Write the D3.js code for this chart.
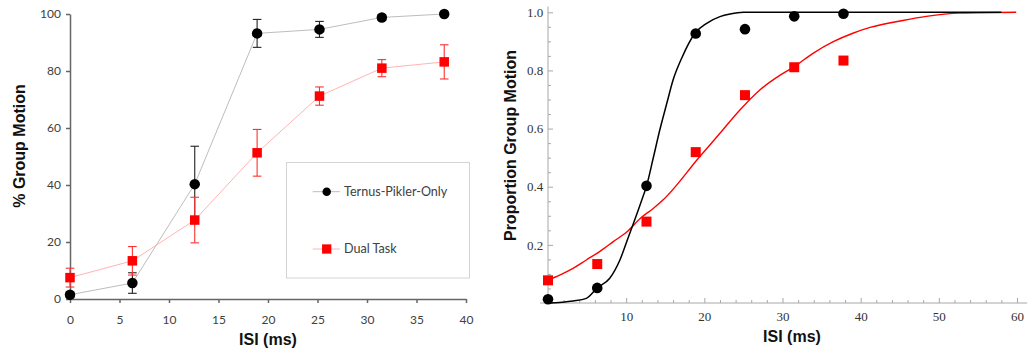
<!DOCTYPE html>
<html>
<head>
<meta charset="utf-8">
<script src="https://cdn.jsdelivr.net/npm/d3@7"></script>
<style>
  html, body { margin: 0; padding: 0; background: #fff; }
  svg { display: block; }
</style>
</head>
<body>
<svg id="chart" width="1028" height="356"></svg>
<script>
// ISI conditions (ms)
const isi = [0, 6.3, 12.6, 18.9, 25.2, 31.5, 37.8];

// Left panel: % group motion with error bars
const ternusPct = [1.5, 5.6, 40.3, 93.2, 94.6, 98.8, 100];
const ternusErr = [1.0, 3.6, 13.3, 4.9, 2.8, 1.0, 0.5];
const dualPct = [7.5, 13.4, 27.7, 51.3, 71.2, 81.0, 83.2];
const dualErr = [3.3, 5.0, 8.0, 8.2, 3.2, 3.0, 6.0];

const leftXTicks = [0, 5, 10, 15, 20, 25, 30, 35, 40];
const leftYTicks = [0, 20, 40, 60, 80, 100];
const legendLabels = ["Ternus-Pikler-Only", "Dual Task"];

// Right panel: proportions and fitted psychometric curves
const ternusProp = [0.013, 0.052, 0.403, 0.927, 0.942, 0.986, 0.995];
const dualProp = [0.078, 0.134, 0.280, 0.519, 0.715, 0.811, 0.834];

const ternusFitX = [0, 3.2, 4.9, 6.3, 7.9, 9.2, 10.3, 11.1, 12.0, 12.6, 13.5, 14.3, 15.2, 16.0, 17.1, 18.8, 20.3, 22.0, 23.3, 25.0, 58.0];
const ternusFitY = [0.0, 0.007, 0.016, 0.052, 0.085, 0.148, 0.228, 0.286, 0.354, 0.402, 0.503, 0.595, 0.687, 0.767, 0.842, 0.928, 0.962, 0.985, 0.994, 1.0, 1.0];
const dualFitX = [0, 1.5, 3.2, 4.9, 6.6, 8.35, 10.1, 11.8, 13.5, 14.7, 19.4, 22.0, 24.55, 27.1, 29.7, 31.5, 33.9, 36.5, 39.0, 41.2, 45.4, 48.4, 52.7, 59.9];
const dualFitY = [0.079, 0.096, 0.119, 0.148, 0.177, 0.211, 0.245, 0.291, 0.326, 0.354, 0.503, 0.584, 0.664, 0.733, 0.784, 0.813, 0.859, 0.899, 0.928, 0.948, 0.972, 0.986, 0.997, 1.0];

const rightXMajor = [0, 10, 20, 30, 40, 50, 60];
const rightXMinor = d3.range(0, 62, 2).filter(v => v % 10 !== 0);
const rightYMajor = [0, 0.2, 0.4, 0.6, 0.8, 1.0];
const rightYMinor = d3.range(0.05, 1.01, 0.05).filter(v => Math.abs(v * 5 - Math.round(v * 5)) > 1e-6);
const rightXExtent = [-1, 61.3];
const rightYExtent = [0, 1.02];

const svg = d3.select("#chart");
const RED = "#ff0000";

// ---------------- Left panel ----------------
const xL = d3.scaleLinear().domain([0, 40]).range([70, 466]);
const yL = d3.scaleLinear().domain([0, 100]).range([299, 14]);

const gL = svg.append("g");

const axisStyle = (g, color, width) => {
  g.select(".domain").attr("stroke", color).attr("stroke-width", width);
  g.selectAll(".tick line").attr("stroke", color).attr("stroke-width", width);
};

const lxAxis = gL.append("g")
  .attr("transform", `translate(0,${yL(0)})`)
  .call(d3.axisBottom(xL).tickValues(leftXTicks).tickSize(4).tickSizeOuter(0).tickPadding(12).tickFormat(d3.format("d")));
axisStyle(lxAxis, "#666", 1.5);
lxAxis.selectAll("text").attr("font-family", "Lato, 'Open Sans', sans-serif").attr("font-size", 12).attr("fill", "#404040");

const lyAxis = gL.append("g")
  .attr("transform", `translate(${xL(0)},0)`)
  .call(d3.axisLeft(yL).tickValues(leftYTicks).tickSize(4).tickSizeOuter(0).tickPadding(5));
axisStyle(lyAxis, "#666", 1.5);
lyAxis.selectAll("text").attr("font-family", "Lato, 'Open Sans', sans-serif").attr("font-size", 12).attr("fill", "#404040");

gL.append("text")
  .attr("x", 268).attr("y", 345)
  .attr("text-anchor", "middle")
  .attr("font-family", "'Liberation Sans', Arial, sans-serif")
  .attr("font-weight", "bold").attr("font-size", 16).attr("fill", "#111")
  .text("ISI (ms)");

gL.append("text")
  .attr("transform", "translate(25,146) rotate(-90)")
  .attr("text-anchor", "middle")
  .attr("font-family", "'Liberation Sans', Arial, sans-serif")
  .attr("font-weight", "bold").attr("font-size", 16).attr("fill", "#111")
  .text("% Group Motion");

const leftSeries = [
  { y: ternusPct, e: ternusErr, line: "#bdbdbd", err: "#222", fill: "#000", shape: "circle" },
  { y: dualPct, e: dualErr, line: "#ffb4b4", err: "#ff3030", fill: RED, shape: "square" }
];

const lineL = d3.line();
leftSeries.forEach(s => {
  gL.append("path")
    .attr("d", lineL(isi.map((x, i) => [xL(x), yL(s.y[i])])))
    .attr("fill", "none").attr("stroke", s.line).attr("stroke-width", 1);
});

leftSeries.forEach(s => {
  const eg = gL.append("g").attr("stroke", s.err).attr("stroke-width", 1.1);
  isi.forEach((x, i) => {
    const cx = xL(x), top = yL(s.y[i] + s.e[i]), bot = yL(s.y[i] - s.e[i]);
    eg.append("line").attr("x1", cx).attr("x2", cx).attr("y1", top).attr("y2", bot);
    eg.append("line").attr("x1", cx - 4.3).attr("x2", cx + 4.3).attr("y1", top).attr("y2", top);
    eg.append("line").attr("x1", cx - 4.3).attr("x2", cx + 4.3).attr("y1", bot).attr("y2", bot);
  });
});

function drawMarker(g, shape, cx, cy, size, fill) {
  if (shape === "circle") {
    g.append("circle").attr("cx", cx).attr("cy", cy).attr("r", size / 2).attr("fill", fill);
  } else {
    g.append("rect").attr("x", cx - size / 2).attr("y", cy - size / 2)
      .attr("width", size).attr("height", size).attr("fill", fill);
  }
}

leftSeries.forEach(s => {
  isi.forEach((x, i) => drawMarker(gL, s.shape, xL(x), yL(s.y[i]), s.shape === "circle" ? 10.5 : 9.5, s.fill));
});

// Legend
const legend = gL.append("g");
legend.append("rect")
  .attr("x", 286.5).attr("y", 162.5).attr("width", 183).attr("height", 115.5)
  .attr("fill", "#fff").attr("stroke", "#d4d4d4").attr("stroke-width", 1);
const legendY = [191.7, 249];
leftSeries.forEach((s, i) => {
  const y = legendY[i];
  legend.append("line").attr("x1", 312.7).attr("x2", 340).attr("y1", y).attr("y2", y)
    .attr("stroke", s.line).attr("stroke-width", 1);
  drawMarker(legend, s.shape, 326.7, y, s.shape === "circle" ? 8.5 : 9.3, s.fill);
  legend.append("text").attr("x", 344).attr("y", y).attr("dy", "0.35em")
    .attr("font-family", "Lato, 'Open Sans', sans-serif").attr("font-size", 12.6).attr("fill", "#404040")
    .text(legendLabels[i]);
});

// ---------------- Right panel ----------------
const xR = d3.scaleLinear().domain([0, 60]).range([548, 1017]);
const yR = d3.scaleLinear().domain([0, 1]).range([303, 12.3]);
const gR = svg.append("g");
const axisGray = "#a8a8a8";

gR.append("line")
  .attr("x1", xR(rightXExtent[0])).attr("x2", xR(rightXExtent[1]))
  .attr("y1", yR(0)).attr("y2", yR(0))
  .attr("stroke", axisGray).attr("stroke-width", 1);
gR.append("line")
  .attr("x1", xR(0)).attr("x2", xR(0))
  .attr("y1", yR(rightYExtent[0])).attr("y2", yR(rightYExtent[1]))
  .attr("stroke", axisGray).attr("stroke-width", 1);

const tickFont = "'Liberation Serif', 'Times New Roman', serif";

const rxMajor = gR.append("g").attr("transform", `translate(0,${yR(0)})`)
  .call(d3.axisBottom(xR).tickValues(rightXMajor).tickSize(-5).tickPadding(8.5).tickFormat(d => d === 0 ? "" : d));
const rxMinor = gR.append("g").attr("transform", `translate(0,${yR(0)})`)
  .call(d3.axisBottom(xR).tickValues(rightXMinor).tickSize(-3).tickFormat(""));
const ryMajor = gR.append("g").attr("transform", `translate(${xR(0)},0)`)
  .call(d3.axisLeft(yR).tickValues(rightYMajor).tickSize(-5).tickPadding(4.7).tickFormat(d => d === 0 ? "" : d3.format(".1f")(d)));
const ryMinor = gR.append("g").attr("transform", `translate(${xR(0)},0)`)
  .call(d3.axisLeft(yR).tickValues(rightYMinor).tickSize(-3).tickFormat(""));
[rxMajor, rxMinor, ryMajor, ryMinor].forEach(g => {
  g.attr("font-family", tickFont).attr("font-size", 13);
  g.select(".domain").remove();
  g.selectAll(".tick line").attr("stroke", axisGray).attr("stroke-width", 1);
  g.selectAll("text").attr("font-family", tickFont).attr("font-size", 13).attr("fill", "#333");
});

gR.append("text")
  .attr("x", 792).attr("y", 341.7)
  .attr("text-anchor", "middle")
  .attr("font-family", "'Liberation Sans', Arial, sans-serif")
  .attr("font-weight", "bold").attr("font-size", 16).attr("fill", "#111")
  .text("ISI (ms)");

gR.append("text")
  .attr("transform", "translate(516,145.5) rotate(-90)")
  .attr("text-anchor", "middle")
  .attr("font-family", "'Liberation Sans', Arial, sans-serif")
  .attr("font-weight", "bold").attr("font-size", 16).attr("fill", "#111")
  .text("Proportion Group Motion");

const fitLine = d3.line().curve(d3.curveMonotoneX);
gR.append("path")
  .attr("d", fitLine(dualFitX.map((x, i) => [xR(x), yR(dualFitY[i])])))
  .attr("fill", "none").attr("stroke", RED).attr("stroke-width", 1.4);
gR.append("path")
  .attr("d", fitLine(ternusFitX.map((x, i) => [xR(x), yR(ternusFitY[i])])))
  .attr("fill", "none").attr("stroke", "#000").attr("stroke-width", 1.5);

isi.forEach((x, i) => drawMarker(gR, "circle", xR(x), yR(ternusProp[i]), 10.6, "#000"));
isi.forEach((x, i) => drawMarker(gR, "square", xR(x), yR(dualProp[i]), 10, RED));
</script>
</body>
</html>
